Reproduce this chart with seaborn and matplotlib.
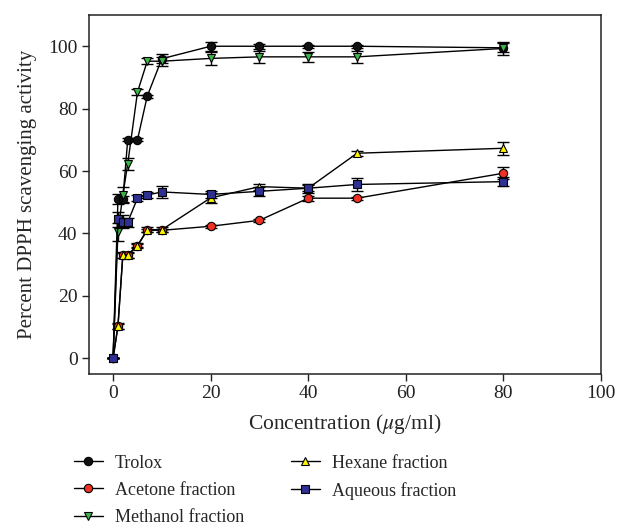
import numpy as np
import pandas as pd
import matplotlib
matplotlib.use('Agg')
import matplotlib.pyplot as plt
import seaborn as sns

# concentration (ug/ml)
conc = [0, 1, 2, 3, 5, 7, 10, 20, 30, 40, 50, 80]

trolox = [0, 51, 51, 70, 70, 84, 96, 100, 100, 100, 100, 99.5]
acetone = [0, 10.3, 33, 33, 36, 41, 41, 42.3, 44.2, 51.3, 51.3, 59.3]
methanol = [0, 40.5, 52.3, 62.3, 85.3, 95.2, 95.2, 96.1, 96.6, 96.6, 96.6, 99.3]
hexane = [0, 10.3, 33.2, 33.2, 36.1, 41.2, 41.2, 51.4, 55, 54.5, 65.7, 67.3]
aqueous = [0, 44.5, 43.8, 43.6, 51.3, 52.3, 53.3, 52.5, 53.5, 54.5, 55.7, 56.6]

trolox_err = [0, 1.5, 1, 0.5, 0.5, 0.5, 1.5, 1.5, 0.8, 0.5, 0.5, 1.5]
acetone_err = [0, 0.8, 0.8, 0.8, 0.5, 0.5, 0.5, 0.5, 0.5, 0.8, 0.5, 2]
methanol_err = [0, 3, 2.5, 2, 1, 1, 1.5, 2, 2, 1.5, 2, 2]
hexane_err = [0, 1, 1, 1, 0.8, 0.8, 0.8, 1.5, 1, 1, 0.8, 2]
aqueous_err = [0, 2.5, 2, 1.5, 1, 1, 2, 1, 1.5, 1.5, 2, 1.5]

names = ['Trolox', 'Acetone fraction', 'Methanol fraction',
         'Hexane fraction', 'Aqueous fraction']
values = [trolox, acetone, methanol, hexane, aqueous]
errors = [trolox_err, acetone_err, methanol_err, hexane_err, aqueous_err]
colors = ['#111111', '#ee3124', '#3cb54a', '#fff200', '#2e3192']
markers = ['o', 'o', 'v', '^', 's']
msizes = [8.5, 8.5, 9, 9, 8]

sns.set_style('ticks')
plt.rcParams['font.family'] = ['Liberation Serif', 'DejaVu Serif']
plt.rcParams['mathtext.fontset'] = 'stix'

fig = plt.figure(figsize=(6.18, 5.28), dpi=100)
ax = fig.add_axes([0.1435, 0.292, 0.829, 0.6795])

for name, vals, err, c, m, ms in zip(names, values, errors, colors, markers, msizes):
    df = pd.DataFrame({'conc': conc, 'value': vals})
    ax.errorbar(conc, vals, yerr=err, fmt='none', ecolor='black',
                elinewidth=1, capsize=4, capthick=1, zorder=2)
    sns.lineplot(data=df, x='conc', y='value', ax=ax, color='black',
                 linewidth=1, marker=m, markersize=ms, markerfacecolor=c,
                 markeredgecolor='black', markeredgewidth=0.8,
                 label=name, zorder=3)

ax.set_xlim(-5, 100)
ax.set_ylim(-5, 110)
ax.set_xticks([0, 20, 40, 60, 80, 100])
ax.set_yticks([0, 20, 40, 60, 80, 100])
ax.tick_params(labelsize=14, direction='out', length=5, width=1, pad=3,
               colors='#222222')
for s in ax.spines.values():
    s.set_linewidth(1.1)
    s.set_color('#222222')
ax.set_xlabel(r'Concentration ($\mu$g/ml)', fontsize=15.5, labelpad=7)
ax.set_ylabel('Percent DPPH scavenging activity', fontsize=15, labelpad=8)

handles, labels = ax.get_legend_handles_labels()
for h in handles:
    h.set_markersize(6)
ax.legend(handles, labels, loc='upper left', bbox_to_anchor=(0.1197, 0.139),
          bbox_transform=fig.transFigure, ncol=2, frameon=False, fontsize=13,
          handlelength=1.59, columnspacing=2.6, labelspacing=0.56,
          handletextpad=0.67, borderpad=0, borderaxespad=0)

fig.savefig('out.png', dpi=100)
